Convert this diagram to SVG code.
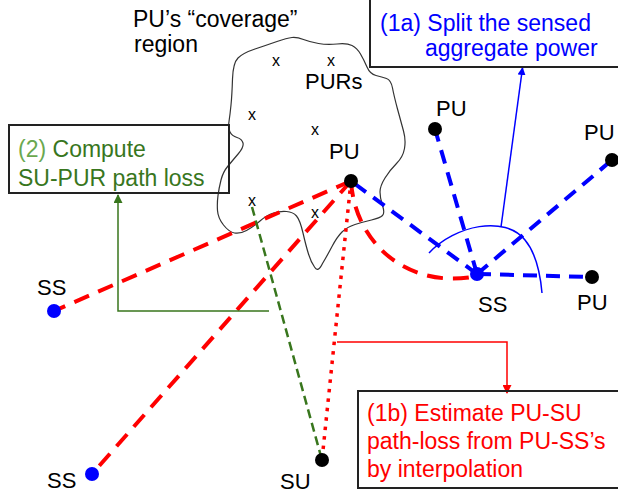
<svg xmlns="http://www.w3.org/2000/svg" width="618" height="494" viewBox="0 0 618 494">
<style>
text{font-family:"Liberation Sans",Arial,sans-serif}
.lbl{font-size:22px;fill:#000}
.cov{font-size:23px;fill:#000}
.x{font-size:16px;fill:#000;text-anchor:middle}
.box{fill:none;stroke:#222;stroke-width:2}
.red{stroke:#ff0000;stroke-width:4;stroke-dasharray:16 10;fill:none}
.dot{stroke:#ff0000;stroke-width:3.5;stroke-dasharray:3.5 6;fill:none}
.blue{stroke:#0000ff;stroke-width:4;stroke-dasharray:14 9;fill:none}
.green{stroke:#38761d;stroke-width:2.5;stroke-dasharray:9 5;fill:none}
.pu{fill:#000}
.ss{fill:#0000ff}
.bt{font-size:23px}
</style>
<defs>
<marker id="ab" markerWidth="8" markerHeight="8" refX="7" refY="4" orient="auto" markerUnits="userSpaceOnUse"><path d="M0,0 L8,4 L0,8 Z" fill="#0000ff"/></marker>
<marker id="ar" markerWidth="9" markerHeight="9" refX="8" refY="4.5" orient="auto" markerUnits="userSpaceOnUse"><path d="M0,0 L9,4.5 L0,9 Z" fill="#ff0000"/></marker>
<marker id="ag" markerWidth="9" markerHeight="9" refX="8" refY="4.5" orient="auto" markerUnits="userSpaceOnUse"><path d="M0,0 L9,4.5 L0,9 Z" fill="#38761d"/></marker>
</defs>

<g id="coverage-region">
<path fill="none" stroke="#333" stroke-width="1.2" d="M232.5,79 Q233,63 238,58 Q243,53 255,49 Q267,45 277,41.5 Q287,38 292,37.5 Q297,37 303.5,39.5 Q310,42 318.5,43.5 Q327,45 337,44 Q347,43 352,45.5 Q357,48 360.5,54 Q364,60 367,67 Q370,74 376,75.5 Q382,77 386.5,78.5 Q391,80 392.5,88 Q394,96 397.5,109 Q401,122 403.5,131 Q406,140 404.5,148.5 Q403,157 396.5,163.5 Q390,170 385,178 Q380,186 380,192 Q380,198 382.5,205.5 Q385,213 382.5,215.5 Q380,218 371.5,220 Q363,222 355,224.5 Q347,227 342,232 Q337,237 332,246.5 Q327,256 322.5,263.5 Q318,273 314.5,267 Q311,262 308.5,254 Q306,246 303,233 Q300,220 296.5,216 Q293,212 286.5,211.5 Q280,211 273.5,213 Q267,215 260,221 Q253,227 246.5,230.5 Q240,234 234.5,233 Q229,232 223.5,225 Q218,218 217.5,210.5 Q217,203 218,195.5 Q219,188 221,180 Q223,172 228,166 Q233,160 238.5,153.5 Q244,147 243,143 Q242,139 237,137.5 Q232,136 230,132 Q228,128 229,121.5 Q230,115 231,105 Q232,95 232.5,79 Z"/>
<text class="cov" x="133" y="27">PU’s “coverage”</text>
<text class="cov" x="134" y="52">region</text>
<text class="x" x="276" y="66">x</text>
<text class="x" x="331" y="66">x</text>
<text class="x" x="252" y="120">x</text>
<text class="x" x="315" y="135">x</text>
<text class="x" x="252" y="206">x</text>
<text class="x" x="315" y="218">x</text>
<text class="lbl" x="305" y="89">PURs</text>
</g>

<g id="connectors">
<line class="red" x1="351" y1="181" x2="54" y2="311"/>
<line class="red" x1="351" y1="181" x2="92" y2="474"/>
<path class="red" d="M351,181 C355,245 410,290 477,276"/>
<line class="dot" x1="351" y1="181" x2="322" y2="460"/>
<line class="green" x1="252" y1="207" x2="322" y2="460"/>
<line class="blue" x1="477" y1="274" x2="351" y2="181"/>
<line class="blue" x1="477" y1="274" x2="435" y2="129"/>
<line class="blue" x1="477" y1="274" x2="612" y2="160"/>
<line class="blue" x1="477" y1="274" x2="592" y2="277"/>
<path d="M429,253 C455,225 505,215 525,240 C535,252 540,270 542,293" fill="none" stroke="#0000ff" stroke-width="1.5"/>
<line x1="501" y1="227" x2="522.5" y2="68" stroke="#0000ff" stroke-width="1.5" marker-end="url(#ab)"/>
<polyline points="337,342 507,342 507,393" fill="none" stroke="#ff0000" stroke-width="1.5" marker-end="url(#ar)"/>
<polyline points="269,311 118,311 118,195" fill="none" stroke="#38761d" stroke-width="1.5" marker-end="url(#ag)"/>
</g>

<g id="pu-main"><circle class="pu" cx="351" cy="181" r="7"/><text class="lbl" x="329" y="159">PU</text></g>
<g id="pu-top"><circle class="pu" cx="435" cy="129" r="7"/><text class="lbl" x="436" y="116">PU</text></g>
<g id="pu-right"><circle class="pu" cx="612" cy="160" r="7"/><text class="lbl" x="584" y="140">PU</text></g>
<g id="pu-lowright"><circle class="pu" cx="592" cy="277" r="7"/><text class="lbl" x="577" y="310">PU</text></g>
<g id="ss-right"><circle class="ss" cx="477" cy="274" r="7"/><text class="lbl" x="478" y="312">SS</text></g>
<g id="ss-left-top"><circle class="ss" cx="54" cy="311" r="7"/><text class="lbl" x="37" y="295">SS</text></g>
<g id="ss-left-bottom"><circle class="ss" cx="92" cy="474" r="7"/><text class="lbl" x="47" y="488">SS</text></g>
<g id="su"><circle class="pu" cx="322" cy="460" r="7"/><text class="lbl" x="280" y="489">SU</text></g>

<g id="box-1a">
<rect class="box" x="370" y="-5" width="255" height="72"/>
<text class="bt" fill="#0000ff" x="380" y="31">(1a) Split the sensed</text>
<text class="bt" fill="#0000ff" x="425" y="56">aggregate power</text>
</g>
<g id="box-2">
<rect class="box" x="9" y="125" width="220" height="68"/>
<text class="bt" x="18" y="157"><tspan fill="#6aa84f">(2)</tspan><tspan fill="#38761d"> Compute</tspan></text>
<text class="bt" fill="#38761d" x="18" y="186">SU-PUR path loss</text>
</g>
<g id="box-1b">
<rect class="box" x="358" y="391" width="270" height="97"/>
<text class="bt" fill="#ff0000" x="367" y="421">(1b) Estimate PU-SU</text>
<text class="bt" fill="#ff0000" x="367" y="449">path-loss from PU-SS’s</text>
<text class="bt" fill="#ff0000" x="367" y="477">by interpolation</text>
</g>
</svg>
